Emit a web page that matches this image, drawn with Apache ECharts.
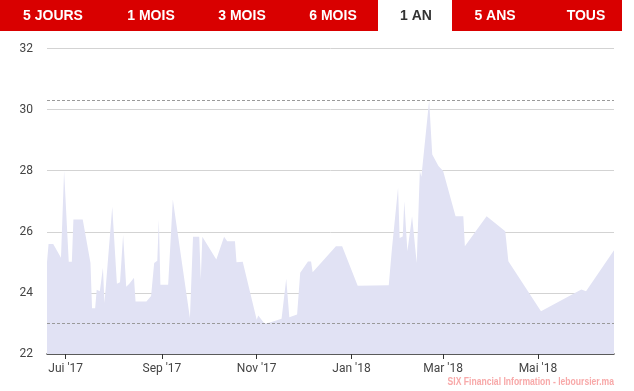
<!DOCTYPE html>
<html>
<head>
<meta charset="utf-8">
<script src="https://cdn.jsdelivr.net/npm/echarts@6/dist/echarts.min.js"></script>
<style>
html,body{margin:0;padding:0;background:#fff;}
#chart{width:634px;height:391px;}
</style>
</head>
<body>
<div id="chart"></div>
<script>
// ---- data ----
var dates = [
'2017-06-19','2017-06-20','2017-06-23','2017-06-28','2017-06-30','2017-07-03','2017-07-05','2017-07-06','2017-07-12','2017-07-17',
'2017-07-18','2017-07-20','2017-07-21','2017-07-23','2017-07-25','2017-07-26','2017-07-31','2017-08-03','2017-08-05','2017-08-07',
'2017-08-09','2017-08-11','2017-08-14','2017-08-15','2017-08-22','2017-08-25','2017-08-27','2017-08-29','2017-08-30','2017-08-31',
'2017-09-05','2017-09-08','2017-09-19','2017-09-21','2017-09-25','2017-09-26','2017-09-27','2017-10-06','2017-10-11','2017-10-13',
'2017-10-18','2017-10-19','2017-10-23','2017-11-01','2017-11-02','2017-11-06','2017-11-09','2017-11-17','2017-11-20','2017-11-22',
'2017-11-27','2017-11-29','2017-12-04','2017-12-06','2017-12-07','2017-12-22','2017-12-26','2018-01-05','2018-01-25','2018-01-27',
'2018-01-31','2018-02-01','2018-02-03','2018-02-04','2018-02-06','2018-02-09','2018-02-12','2018-02-14','2018-02-15','2018-02-20',
'2018-02-22','2018-02-26','2018-03-01','2018-03-09','2018-03-14','2018-03-15','2018-03-29','2018-04-10','2018-04-12','2018-05-03',
'2018-05-29','2018-06-01','2018-06-19'
];
var prices = [
25.0,25.6,25.6,25.15,28.0,25.02,25.02,26.4,26.4,24.98,
23.5,23.5,24.1,24.05,24.82,23.67,26.82,24.3,24.35,25.9,
24.2,24.3,24.5,23.72,23.72,23.9,24.98,25.05,26.4,24.27,
24.27,27.06,23.18,25.84,25.84,24.44,25.84,25.09,25.84,25.69,
25.69,25.0,25.02,23.12,23.26,23.0,23.02,23.15,24.46,23.2,
23.29,24.66,25.03,25.03,24.68,25.53,25.53,24.23,24.25,25.42,
27.44,25.8,25.85,27.0,25.36,26.51,24.98,27.99,27.8,30.3,
28.53,28.15,27.99,26.51,26.51,25.53,26.51,26.02,25.04,23.4,
24.11,24.05,25.4
];
var xRange = ['2017-06-19','2018-06-19'];
var tickDates = ['2017-07-01','2017-09-01','2017-11-01','2018-01-01','2018-03-01','2018-05-01'];
var tickLabels = ["Jui '17","Sep '17","Nov '17","Jan '18","Mar '18","Mai '18"];
var yTicks = [22, 24, 26, 28, 30, 32];
var tabLabels = ['5 JOURS','1 MOIS','3 MOIS','6 MOIS','1 AN','5 ANS','TOUS'];
var activeTab = '1 AN';
var creditText = 'SIX Financial Information - leboursier.ma';

// ---- layout (not data) ----
var tabCenters = [53, 151, 242, 333, 416, 495, 586];

function ts(s){ var p = s.split('-'); return Date.UTC(+p[0], +p[1]-1, +p[2]); }
var tickValues = tickDates.map(ts);
var seriesData = dates.map(function(d,i){ return [ts(d), prices[i]]; });

var chart = echarts.init(document.getElementById('chart'), null, {renderer:'canvas'});

var graphics = [
  {type:'rect', shape:{x:0,y:0,width:622,height:31}, style:{fill:'#d90000'}, z:10},
  {type:'rect', shape:{x:378,y:0,width:74,height:31}, style:{fill:'#ffffff'}, z:11}
];
tabLabels.forEach(function(t,i){
  graphics.push({
    type:'text', x:tabCenters[i], y:16, z:12,
    style:{text:t, fill:(t===activeTab?'#333333':'#ffffff'), font:'bold 14px "Liberation Sans", Arial, sans-serif', textAlign:'center', textVerticalAlign:'middle'}
  });
});
graphics.push({
  type:'text', x:614, y:381.5, z:12, scaleX:0.78,
  style:{text:creditText, fill:'#f8a9a9', font:'bold 11px "Liberation Sans", sans-serif', textAlign:'right', textVerticalAlign:'middle'}
});

chart.setOption({
  animation:false,
  backgroundColor:'#ffffff',
  grid:{left:47, right:20, top:48.5, bottom:37, containLabel:false},
  xAxis:{
    type:'value',
    min:ts(xRange[0]), max:ts(xRange[1]),
    axisLine:{show:true, lineStyle:{color:'#333333', width:1.5}},
    axisTick:{show:true, length:5, customValues:tickValues, lineStyle:{color:'#333333', width:1}},
    axisLabel:{
      customValues:tickValues,
      color:'#444444', fontSize:12, fontFamily:'Roboto, sans-serif', margin:9,
      formatter:function(v){ var i = tickValues.indexOf(v); return i>=0 ? tickLabels[i] : ''; }
    },
    splitLine:{show:false}
  },
  yAxis:{
    type:'value', min:yTicks[0], max:yTicks[yTicks.length-1], interval:yTicks[1]-yTicks[0],
    axisLine:{show:false}, axisTick:{show:false},
    axisLabel:{color:'#444444', fontSize:12, fontFamily:'Roboto, sans-serif', margin:14},
    splitLine:{lineStyle:{color:'#d3d3d3', width:1}}
  },
  series:[{
    type:'line',
    data:seriesData,
    showSymbol:false,
    lineStyle:{width:0},
    areaStyle:{color:'#e1e2f4', opacity:1, origin:'start'},
    z:2,
    markLine:{
      silent:true, symbol:'none', label:{show:false},
      lineStyle:{type:[3,2], color:'#9a9a9a', width:1},
      data:[{type:'max'},{type:'min'}]
    }
  }],
  graphic:graphics
});
</script>
</body>
</html>
